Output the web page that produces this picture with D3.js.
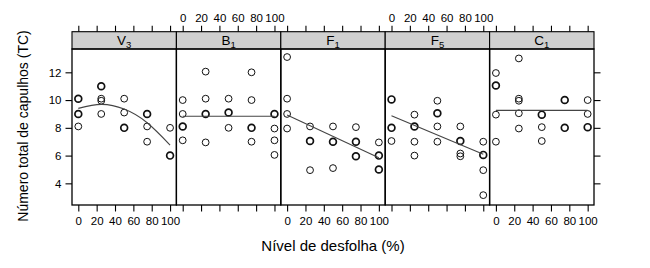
<!DOCTYPE html>
<html><head><meta charset="utf-8">
<script src="https://cdn.jsdelivr.net/npm/d3@7"></script>
<style>body{margin:0;background:#fff}svg{display:block}text{font-family:"Liberation Sans",Arial,Helvetica,sans-serif}</style>
</head><body><svg id="c" width="650" height="268"></svg>
<script>
// ---- data ----
const levels = [0, 25, 50, 75, 100];
const panelNames = [["V", "3"], ["B", "1"], ["F", "1"], ["F", "5"], ["C", "1"]];
const xTicks = [0, 20, 40, 60, 80, 100];
const yTicks = [4, 6, 8, 10, 12];
// observed values per defoliation level (repeated values = overlapping points)
const V3 = [[10.1, 10.1, 9, 9, 8.1], [11, 11, 10.1, 9.95, 9], [10.1, 9.1, 8, 8], [9, 9, 8.1, 7], [8, 6, 6]];
const B1 = [[10, 9, 8.1, 8.1, 7.1], [12.05, 10.1, 9, 9, 6.95], [10.1, 9.1, 9.1, 8], [12, 10, 8, 8, 7], [9, 9, 7.95, 7.1, 6.05]];
const F1 = [[13.1, 10.1, 9, 7.95], [8.1, 7.05, 7.05, 4.95], [8.1, 7, 7, 5.1], [8.05, 7, 7, 5.95, 5.95], [6.95, 6, 6, 5, 5]];
const F5 = [[10.05, 10.05, 8, 8, 7.05], [8.95, 8.1, 8.1, 7, 6], [9.95, 9.05, 9.05, 8.1, 7], [8.1, 7.05, 7.05, 6.15, 5.95], [7, 6.05, 6.05, 4.95, 3.15]];
const C1 = [[11.95, 11.05, 11.05, 8.95, 7], [13, 10.1, 9.95, 9.05, 7.95], [8.95, 8.95, 8.05, 7.05], [10, 10, 8, 8], [10, 9, 8.05, 8.05]];
const series = [V3, B1, F1, F5, C1];
// fitted curves (x positions = fitX)
const fitX = [[0, 25, 50, 75, 100], [0, 100], [0, 100], [0, 100], [0, 100]];
const fitY = [[9.4, 9.69, 9.35, 8.37, 6.76], [8.83, 8.83], [8.92, 5.85], [8.87, 6.09], [9.26, 9.26]];

// ---- layout ----
const svg = d3.select("#c");
const pLeft = 72, pw = 104.4, pTop = 49, pBottom = 205, stripH = 17.3;
const y = d3.scaleLinear().domain([2.44, 13.68]).range([pBottom, pTop]);
const font = 11.5;

panelNames.forEach((nm, i) => {
  const x0 = pLeft + i * pw;
  const x = d3.scaleLinear().domain([-6.87, 106.9]).range([x0, x0 + pw]);
  const g = svg.append("g");
  // strip
  g.append("rect").attr("x", x0).attr("y", pTop - stripH).attr("width", pw).attr("height", stripH)
    .attr("fill", "#d0d0d0").attr("stroke", "#000").attr("stroke-width", 1.1);
  const t = g.append("text").attr("x", x0 + pw / 2).attr("y", pTop - 4.5).attr("text-anchor", "middle")
    .attr("font-size", 13.5);
  t.append("tspan").text(nm[0]);
  t.append("tspan").attr("font-size", 9.5).attr("dy", 3).text(nm[1]);

  // points
  series[i].forEach((vals, li) => {
    const counts = d3.rollup(vals, v => v.length, d => d);
    counts.forEach((n, v) => {
      g.append("circle").attr("cx", x(levels[li])).attr("cy", y(v)).attr("r", 3.4)
        .attr("fill", "none").attr("stroke", "#111").attr("stroke-width", n > 1 ? 1.7 : 1.0);
    });
  });
  // fitted line
  const line = d3.line().x(d => x(d[0])).y(d => y(d[1])).curve(d3.curveNatural);
  g.append("path").attr("d", line(fitX[i].map((xx, k) => [xx, fitY[i][k]])))
    .attr("fill", "none").attr("stroke", "#444").attr("stroke-width", 1.1);

  // panel box
  g.append("rect").attr("x", x0).attr("y", pTop).attr("width", pw).attr("height", pBottom - pTop)
    .attr("fill", "none").attr("stroke", "#000").attr("stroke-width", 1.3);

  // bottom axis
  const bx = d3.axisBottom(x).tickValues(xTicks).tickSize(6.5).tickPadding(5)
    .tickFormat(i % 2 === 0 ? d3.format("d") : () => "");
  const ga = g.append("g").attr("transform", `translate(0,${pBottom})`).call(bx);
  // top axis
  const tx = d3.axisTop(x).tickValues(xTicks).tickSize(6).tickPadding(4)
    .tickFormat(i % 2 === 1 ? d3.format("d") : () => "");
  const gt = g.append("g").attr("transform", `translate(0,${pTop - stripH})`).call(tx);
  [ga, gt].forEach(a => {
    a.select(".domain").remove();
    a.selectAll("line").attr("stroke", "#000").attr("stroke-width", 1.1);
    a.selectAll("text").attr("font-size", font).attr("fill", "#000").attr("font-family", '"Liberation Sans",Arial,sans-serif');
  });
});

// left axis
const la = svg.append("g").attr("transform", `translate(${pLeft},0)`)
  .call(d3.axisLeft(y).tickValues(yTicks).tickSize(6.5).tickPadding(4));
// right axis
const ra = svg.append("g").attr("transform", `translate(${pLeft + 5 * pw},0)`)
  .call(d3.axisRight(y).tickValues(yTicks).tickSize(6.5).tickFormat(() => ""));
[la, ra].forEach(a => {
  a.select(".domain").remove();
  a.selectAll("line").attr("stroke", "#000").attr("stroke-width", 1.1);
  a.selectAll("text").attr("font-size", font).attr("fill", "#000").attr("font-family", '"Liberation Sans",Arial,sans-serif');
});

// titles
svg.append("text").attr("x", pLeft + 2.5 * pw).attr("y", 251).attr("text-anchor", "middle")
  .attr("font-size", 15).text("Nível de desfolha (%)");
svg.append("text").attr("transform", "translate(28,126) rotate(-90)").attr("text-anchor", "middle")
  .attr("font-size", 14).text("Número total de capulhos (TC)");
</script></body></html>
